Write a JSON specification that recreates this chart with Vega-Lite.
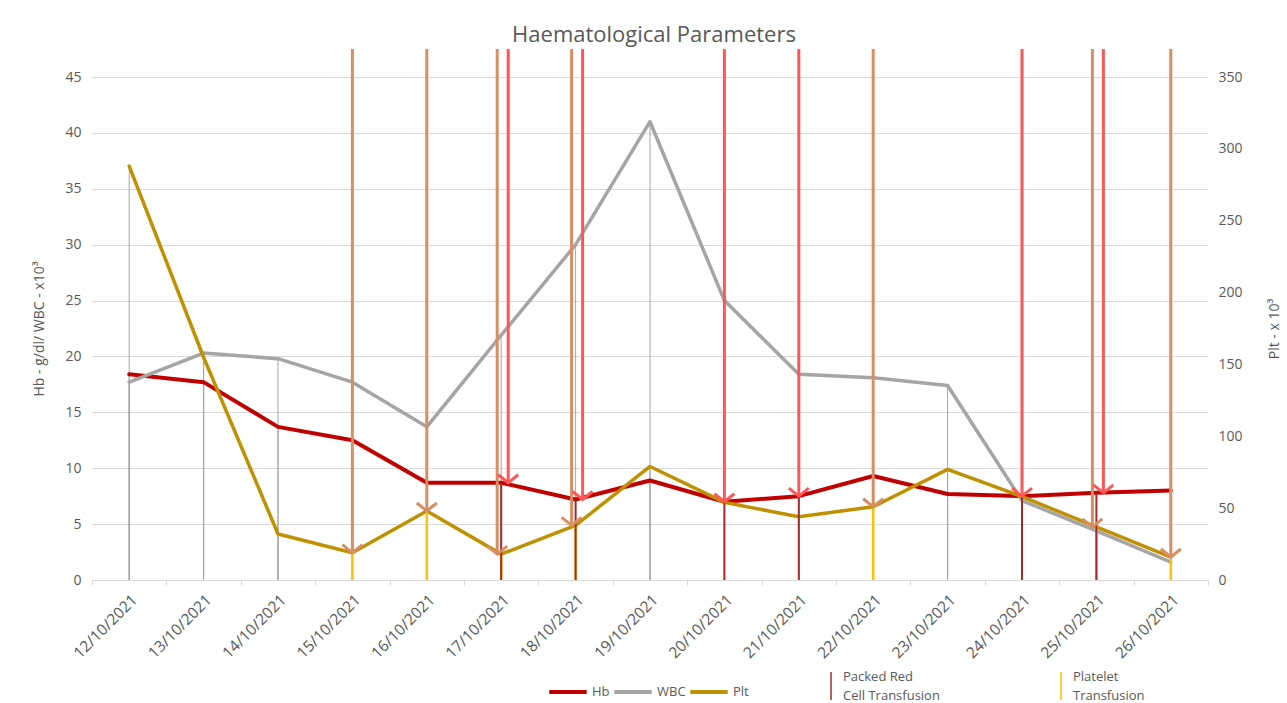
{
"$schema":"https://vega.github.io/schema/vega-lite/v6.json",
"width":1116,"height":503,
"autosize":{"type":"none"},
"padding":{"left":92,"top":77,"right":79,"bottom":123},
"background":"white",
"title":{"text":"Haematological Parameters","fontSize":22,"fontWeight":"normal","color":"#595959","frame":"group","anchor":"middle","baseline":"bottom","offset":27,"dx":4,"dy":48},
"data":{"values":[
{"date":"12/10/2021","Hb":18.4,"WBC":17.7,"Plt":288,"prbc":false,"platelet":false},
{"date":"13/10/2021","Hb":17.7,"WBC":20.3,"Plt":155,"prbc":false,"platelet":false},
{"date":"14/10/2021","Hb":13.7,"WBC":19.8,"Plt":32,"prbc":false,"platelet":false},
{"date":"15/10/2021","Hb":12.5,"WBC":17.7,"Plt":19,"prbc":false,"platelet":true},
{"date":"16/10/2021","Hb":8.7,"WBC":13.7,"Plt":48,"prbc":false,"platelet":true},
{"date":"17/10/2021","Hb":8.7,"WBC":21.9,"Plt":18,"prbc":true,"platelet":true},
{"date":"18/10/2021","Hb":7.2,"WBC":30.0,"Plt":38,"prbc":true,"platelet":true},
{"date":"19/10/2021","Hb":8.9,"WBC":41.0,"Plt":79,"prbc":false,"platelet":false},
{"date":"20/10/2021","Hb":7.0,"WBC":25.0,"Plt":54,"prbc":true,"platelet":false},
{"date":"21/10/2021","Hb":7.5,"WBC":18.4,"Plt":44,"prbc":true,"platelet":false},
{"date":"22/10/2021","Hb":9.3,"WBC":18.1,"Plt":51,"prbc":false,"platelet":true},
{"date":"23/10/2021","Hb":7.7,"WBC":17.4,"Plt":77,"prbc":false,"platelet":false},
{"date":"24/10/2021","Hb":7.5,"WBC":7.1,"Plt":58,"prbc":true,"platelet":false},
{"date":"25/10/2021","Hb":7.8,"WBC":4.4,"Plt":37,"prbc":true,"platelet":true},
{"date":"26/10/2021","Hb":8.0,"WBC":1.6,"Plt":16,"prbc":false,"platelet":true}
]},
"encoding":{"x":{"field":"date","type":"ordinal","sort":null,"scale":{"type":"band","paddingInner":0,"paddingOuter":0},
 "axis":{"title":null,"labelAngle":-45,"labelAlign":"right","labelBaseline":"middle","labelPadding":12,"labelOffset":5,"labelFontSize":15.5,"domain":true,"domainColor":"#D9D9D9","ticks":true,"tickBand":"extent","tickColor":"#D9D9D9","tickSize":5,"grid":false}}},
"layer":[
 {"mark":{"type":"rule","color":"#A6A6A6","strokeWidth":1},
  "encoding":{"y":{"field":"WBC","type":"quantitative","scale":{"domain":[0,45]},
   "axis":{"orient":"left","values":[0,5,10,15,20,25,30,35,40,45],"grid":true,"title":"Hb - g/dl/ WBC - x10³","labelPadding":11,"titlePadding":18}},
   "y2":{"datum":0}}},
 {"mark":{"type":"rule","color":"#A6A6A6","strokeWidth":1},
  "encoding":{"y":{"field":"Hb","type":"quantitative","scale":{"domain":[0,45]},"axis":null},"y2":{"datum":0}}},
 {"mark":{"type":"rule","color":"#A6A6A6","strokeWidth":1},
  "encoding":{"y":{"field":"Plt","type":"quantitative","scale":{"domain":[0,350]},
   "axis":{"orient":"right","values":[0,50,100,150,200,250,300,350],"grid":false,"title":"Plt - x 10³","labelPadding":10,"titlePadding":25,"titleAngle":270,"titleBaseline":"top"}},
   "y2":{"datum":0}}},
 {"mark":{"type":"line","strokeWidth":4,"strokeJoin":"round","strokeCap":"round"},
  "encoding":{"y":{"field":"Hb","type":"quantitative","scale":{"domain":[0,45]},"axis":null},
   "color":{"datum":"Hb","type":"nominal","scale":{"domain":["Hb","WBC","Plt"],"range":["#C00000","#A5A5A5","#BF9000"]},
    "legend":{"orient":"none","legendX":455,"legendY":594,"direction":"horizontal","title":null,"symbolType":"stroke","symbolSize":1400,"symbolStrokeWidth":4,"labelOffset":3,"columnPadding":-4,"labelFontSize":13}}}},
 {"mark":{"type":"line","strokeWidth":3.5,"strokeJoin":"round","strokeCap":"round"},
  "encoding":{"y":{"field":"WBC","type":"quantitative","scale":{"domain":[0,45]},"axis":null},
   "color":{"datum":"WBC","type":"nominal"}}},
 {"mark":{"type":"line","strokeWidth":3.5,"strokeJoin":"round","strokeCap":"round"},
  "encoding":{"y":{"field":"Plt","type":"quantitative","scale":{"domain":[0,350]},"axis":null},
   "color":{"datum":"Plt","type":"nominal"}}},
 {"transform":[{"filter":"datum.platelet"}],
  "mark":{"type":"rule","strokeWidth":2.5},
  "encoding":{"y":{"field":"Plt","type":"quantitative","scale":{"domain":[0,350]},"axis":null},"y2":{"datum":0},
   "stroke":{"datum":"Platelet Transfusion","type":"nominal","scale":{"domain":["Packed Red Cell Transfusion","Platelet Transfusion"],"range":["#A52A2A","#FFC000"]},
    "legend":{"orient":"none","legendX":724,"legendY":594,"direction":"horizontal","title":null,"symbolType":"M0,-1L0,1","symbolSize":784,"symbolStrokeWidth":1.5,"labelOffset":-3,"columnPadding":106,"labelFontSize":13,
     "labelExpr":"datum.label == 'Platelet Transfusion' ? ['Platelet','Transfusion'] : ['Packed Red','Cell Transfusion']",
     "encode":{"labels":{"update":{"lineHeight":{"value":19},"dy":{"value":-9}}}}}}}},
 {"transform":[{"filter":"datum.prbc"}],
  "mark":{"type":"rule","strokeWidth":2},
  "encoding":{"y":{"field":"Hb","type":"quantitative","scale":{"domain":[0,45]},"axis":null},"y2":{"datum":0},
   "stroke":{"datum":"Packed Red Cell Transfusion","type":"nominal"}}},
 {"transform":[{"filter":"datum.platelet && !datum.prbc"}],
  "encoding":{"y":{"field":"Plt","type":"quantitative","scale":{"domain":[0,350]},"axis":null}},
  "layer":[
   {"mark":{"type":"rule","color":"#D88E63","strokeWidth":3},"encoding":{"y2":{"datum":369.4}}},
   {"mark":{"type":"point","shape":"M-1,-0.8L0,0L1,-0.8","size":400,"filled":false,"color":"#D88E63","strokeWidth":3,"opacity":1}}
  ]},
 {"transform":[{"filter":"datum.platelet && datum.prbc"}],
  "encoding":{"y":{"field":"Plt","type":"quantitative","scale":{"domain":[0,350]},"axis":null}},
  "layer":[
   {"mark":{"type":"rule","color":"#D88E63","strokeWidth":3,"xOffset":-4},"encoding":{"y2":{"datum":369.4}}},
   {"mark":{"type":"point","shape":"M-1,-0.8L0,0L1,-0.8","size":400,"filled":false,"color":"#D88E63","strokeWidth":3,"opacity":1,"xOffset":-4}}
  ]},
 {"transform":[{"filter":"datum.prbc && !datum.platelet"}],
  "encoding":{"y":{"field":"Hb","type":"quantitative","scale":{"domain":[0,45]},"axis":null}},
  "layer":[
   {"mark":{"type":"rule","color":"#FF5757","strokeWidth":3},"encoding":{"y2":{"datum":47.5}}},
   {"mark":{"type":"point","shape":"M-1,-0.8L0,0L1,-0.8","size":400,"filled":false,"color":"#FF5757","strokeWidth":3,"opacity":1}}
  ]},
 {"transform":[{"filter":"datum.prbc && datum.platelet"}],
  "encoding":{"y":{"field":"Hb","type":"quantitative","scale":{"domain":[0,45]},"axis":null}},
  "layer":[
   {"mark":{"type":"rule","color":"#FF5757","strokeWidth":3,"xOffset":7},"encoding":{"y2":{"datum":47.5}}},
   {"mark":{"type":"point","shape":"M-1,-0.8L0,0L1,-0.8","size":400,"filled":false,"color":"#FF5757","strokeWidth":3,"opacity":1,"xOffset":7}}
  ]}
],
"resolve":{"scale":{"y":"independent"}},
"config":{
 "font":"Open Sans",
 "view":{"stroke":null},
 "axis":{"labelColor":"#595959","labelFontSize":14,"titleColor":"#595959","titleFontSize":14,"titleFontWeight":"normal","domain":false,"ticks":false,"gridColor":"#D9D9D9","gridWidth":1},
 "legend":{"labelColor":"#595959","labelFontSize":13}
}
}
